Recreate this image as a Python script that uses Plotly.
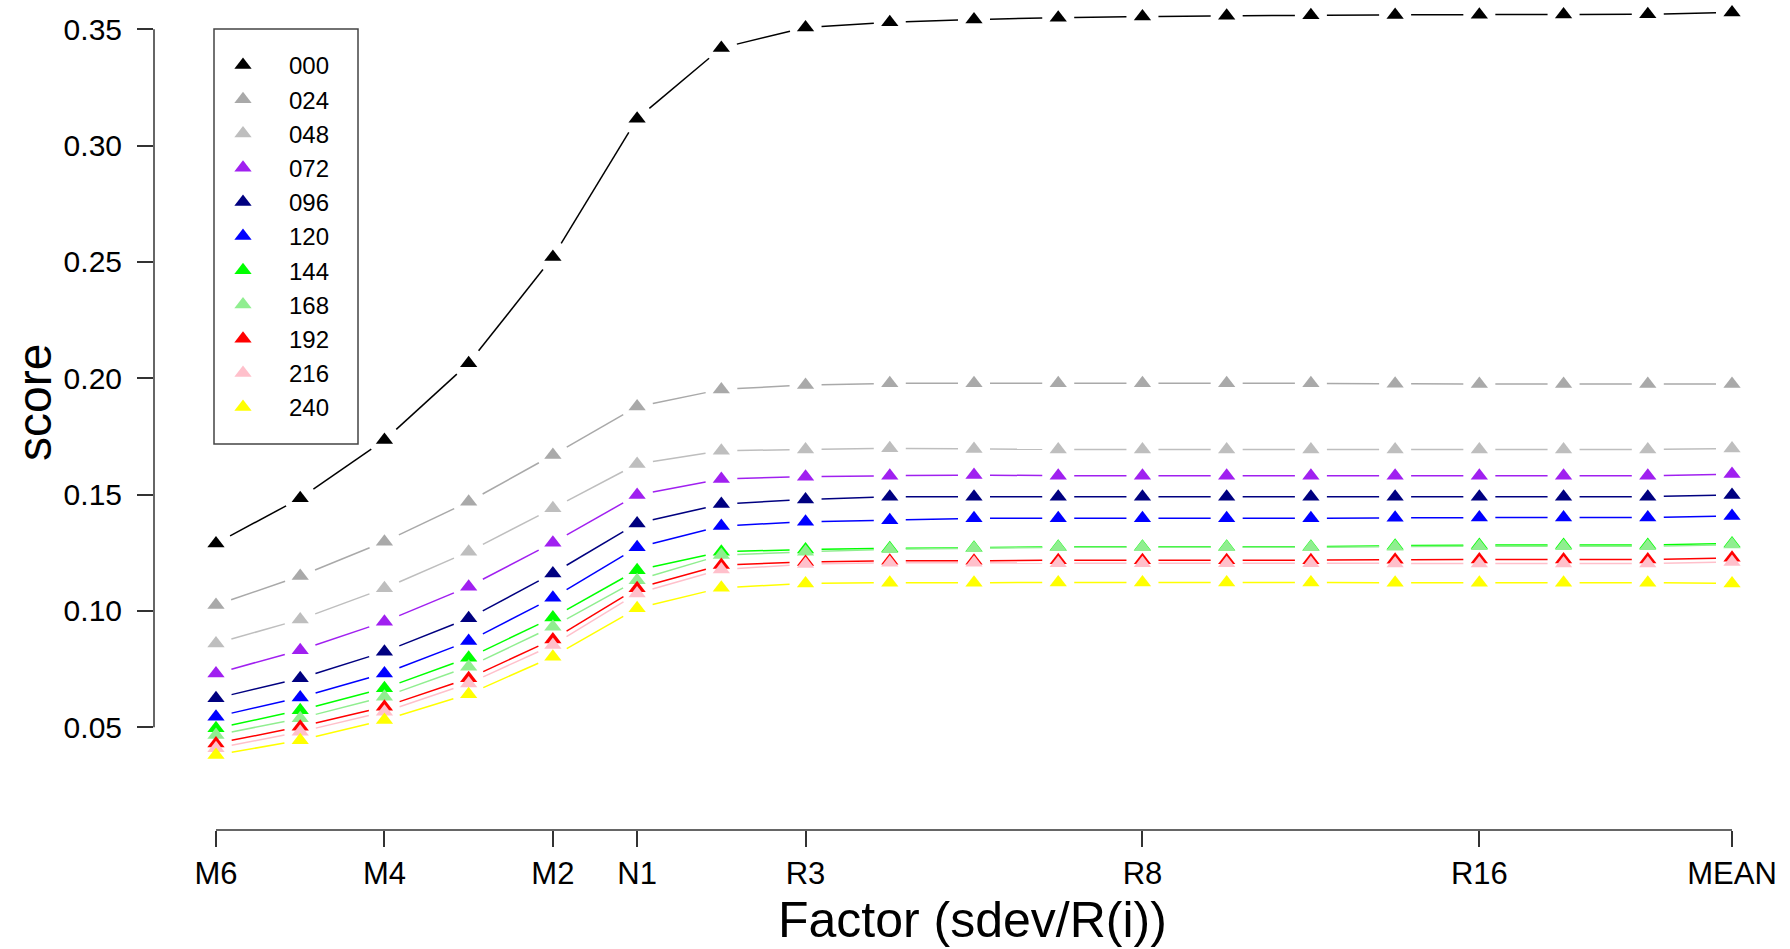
import plotly.graph_objects as go

# ---------------- data ----------------
factors = ["M6", "M5", "M4", "M3", "M2", "N1", "R2", "R3", "R4", "R5", "R6",
           "R8", "R10", "R12", "R14", "R16", "R18", "R20", "MEAN"]
labeled = ["M6", "M4", "M2", "N1", "R3", "R8", "R16", "MEAN"]
series_names = ["000", "024", "048", "072", "096", "120", "144", "168", "192", "216", "240"]
series_colors = ["#000000", "#A9A9A9", "#BEBEBE", "#A020F0", "#000080", "#0000FF",
                 "#00FF00", "#90EE90", "#FF0000", "#FFC0CB", "#FFFF00"]

s000 = [0.1290, 0.1484, 0.1734, 0.2064, 0.2521, 0.3116, 0.3420, 0.3508, 0.3530, 0.3542,
        0.3550, 0.3555, 0.3558, 0.3560, 0.3562, 0.3563, 0.3564, 0.3565, 0.3572]
s024 = [0.1025, 0.1150, 0.1297, 0.1469, 0.1670, 0.1878, 0.1952, 0.1971, 0.1978, 0.1978,
        0.1978, 0.1978, 0.1978, 0.1978, 0.1976, 0.1975, 0.1975, 0.1975, 0.1975]
s048 = [0.0860, 0.0963, 0.1097, 0.1254, 0.1441, 0.1631, 0.1688, 0.1694, 0.1699, 0.1696,
        0.1694, 0.1694, 0.1694, 0.1694, 0.1694, 0.1694, 0.1694, 0.1694, 0.1698]
s072 = [0.0731, 0.0831, 0.0953, 0.1104, 0.1293, 0.1498, 0.1567, 0.1577, 0.1581, 0.1584,
        0.1581, 0.1581, 0.1581, 0.1581, 0.1581, 0.1581, 0.1581, 0.1581, 0.1588]
s096 = [0.0624, 0.0710, 0.0824, 0.0968, 0.1161, 0.1376, 0.1459, 0.1479, 0.1491, 0.1491,
        0.1491, 0.1491, 0.1491, 0.1491, 0.1491, 0.1491, 0.1491, 0.1491, 0.1498]
s120 = [0.0545, 0.0628, 0.0731, 0.0870, 0.1056, 0.1273, 0.1365, 0.1383, 0.1390, 0.1398,
        0.1398, 0.1398, 0.1398, 0.1398, 0.1400, 0.1401, 0.1401, 0.1401, 0.1408]
s144 = [0.0495, 0.0573, 0.0667, 0.0798, 0.0972, 0.1175, 0.1254, 0.1264, 0.1269, 0.1271,
        0.1276, 0.1276, 0.1276, 0.1276, 0.1280, 0.1283, 0.1283, 0.1283, 0.1290]
s168 = [0.0466, 0.0538, 0.0631, 0.0760, 0.0932, 0.1132, 0.1240, 0.1254, 0.1265, 0.1269,
        0.1273, 0.1273, 0.1273, 0.1273, 0.1276, 0.1278, 0.1278, 0.1278, 0.1285]
s192 = [0.0430, 0.0502, 0.0588, 0.0710, 0.0877, 0.1097, 0.1197, 0.1210, 0.1215, 0.1215,
        0.1218, 0.1218, 0.1218, 0.1218, 0.1220, 0.1221, 0.1221, 0.1221, 0.1228]
s216 = [0.0409, 0.0480, 0.0566, 0.0688, 0.0853, 0.1075, 0.1178, 0.1201, 0.1207, 0.1207,
        0.1205, 0.1205, 0.1205, 0.1205, 0.1204, 0.1204, 0.1204, 0.1204, 0.1210]
s240 = [0.0380, 0.0444, 0.0531, 0.0642, 0.0803, 0.1011, 0.1099, 0.1118, 0.1121, 0.1121,
        0.1122, 0.1122, 0.1122, 0.1122, 0.1121, 0.1121, 0.1121, 0.1121, 0.1118]

y_ticks = [0.05, 0.10, 0.15, 0.20, 0.25, 0.30, 0.35]
y_ticktext = ["0.05", "0.10", "0.15", "0.20", "0.25", "0.30", "0.35"]

all_series = [s000, s024, s048, s072, s096, s120, s144, s168, s192, s216, s240]

# ---------------- layout geometry ----------------
W, H = 1790, 949
ML, MR, MT, MB = 154, 20, 10, 119
PW, PH = W - ML - MR, H - MT - MB
x_range = [-0.736, 18.451]
y_range = [0.0058, 0.3583]
sx = PW / (x_range[1] - x_range[0])
sy = PH / (y_range[1] - y_range[0])
GAP = 16  # px gap between line and marker (R type="b")

xs = list(range(len(factors)))


def gapped(xv, yv):
    gx, gy = [], []
    for i in range(len(xv) - 1):
        dxp = (xv[i + 1] - xv[i]) * sx
        dyp = (yv[i + 1] - yv[i]) * sy
        L = (dxp ** 2 + dyp ** 2) ** 0.5
        if L <= 2 * GAP:
            continue
        t = GAP / L
        gx += [xv[i] + t * (xv[i + 1] - xv[i]), xv[i + 1] - t * (xv[i + 1] - xv[i]), None]
        gy += [yv[i] + t * (yv[i + 1] - yv[i]), yv[i + 1] - t * (yv[i + 1] - yv[i]), None]
    return gx, gy


def px2paper_x(p):
    return (p - ML) / PW


def px2paper_y(p):
    return 1 - (p - MT) / PH


fig = go.Figure()
for name, col, vals in zip(series_names, series_colors, all_series):
    lx, ly = gapped(xs, vals)
    fig.add_trace(go.Scatter(x=lx, y=ly, mode="lines", line=dict(color=col, width=1.5),
                             showlegend=False, hoverinfo="skip", cliponaxis=False))
    fig.add_trace(go.Scatter(x=xs, y=vals, mode="markers", name=name,
                             marker=dict(symbol="triangle-up", size=15, color=col,
                                         line=dict(width=0)),
                             cliponaxis=False))

FONT = "Liberation Sans, Arial, Helvetica, sans-serif"
tick_idx = [factors.index(f) for f in labeled]

fig.update_layout(
    width=W, height=H,
    margin=dict(l=ML, r=MR, t=MT, b=MB, pad=0),
    paper_bgcolor="white", plot_bgcolor="white",
    font=dict(family=FONT, color="black"),
    showlegend=True,
    legend=dict(x=px2paper_x(197), y=px2paper_y(43), xanchor="left", yanchor="top",
                bgcolor="rgba(0,0,0,0)", borderwidth=0,
                font=dict(size=24, family=FONT, color="black"),
                itemwidth=82, traceorder="normal"),
    xaxis=dict(range=x_range, tickmode="array", tickvals=tick_idx, ticktext=labeled,
               showgrid=False, zeroline=False, showline=False,
               ticks="outside", ticklen=16, tickwidth=1.5, tickcolor="#333",
               tickfont=dict(size=31, family=FONT, color="black")),
    yaxis=dict(range=y_range, tickmode="array", tickvals=y_ticks, ticktext=y_ticktext,
               showgrid=False, zeroline=False, showline=False,
               ticks="outside", ticklen=16, tickwidth=1.5, tickcolor="#333",
               ticklabelstandoff=9,
               tickfont=dict(size=30, family=FONT, color="black")),
    shapes=[
        dict(type="line", xref="x", yref="paper", x0=0, x1=len(factors) - 1, y0=0, y1=0,
             line=dict(color="#333", width=1.5)),
        dict(type="line", xref="paper", yref="y", x0=0, x1=0, y0=y_ticks[0], y1=y_ticks[-1],
             line=dict(color="#333", width=1.5)),
        dict(type="rect", xref="paper", yref="paper",
             x0=px2paper_x(214), x1=px2paper_x(358), y0=px2paper_y(444), y1=px2paper_y(29),
             line=dict(color="#444", width=1.5), fillcolor="rgba(0,0,0,0)"),
    ],
    annotations=[
        dict(text="score", xref="paper", yref="paper", x=px2paper_x(34), y=px2paper_y(403),
             textangle=-90, showarrow=False, font=dict(size=48, family=FONT, color="black"),
             xanchor="center", yanchor="middle"),
        dict(text="Factor (sdev/R(i))", xref="paper", yref="paper", x=px2paper_x(973),
             y=px2paper_y(920), showarrow=False, font=dict(size=50, family=FONT, color="black"),
             xanchor="center", yanchor="middle"),
    ],
)

fig.write_html("out.html")
